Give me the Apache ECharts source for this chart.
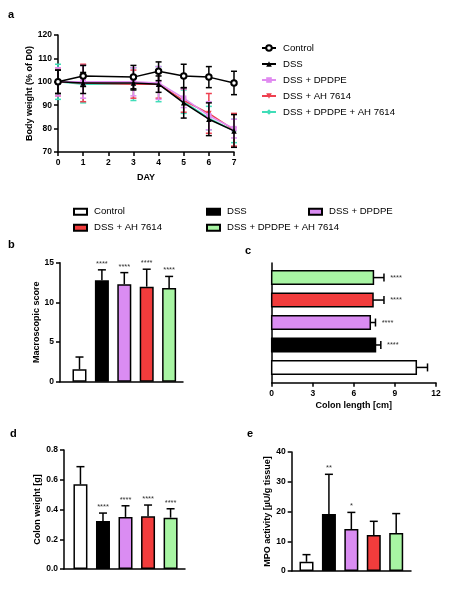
<!DOCTYPE html>
<html><head><meta charset="utf-8">
<script src="https://cdn.jsdelivr.net/npm/echarts@6/dist/echarts.min.js"></script>
<style>html,body{margin:0;padding:0;background:#fff}#c{width:474px;height:591px}</style>
</head><body><div id="c"></div><script>
// ---------- data ----------
const groups = ['Control','DSS','DSS + DPDPE','DSS + AH 7614','DSS + DPDPE + AH 7614'];
const days = [0,1,3,4,5,6,7];
// panel a: body weight (% of D0)
const bwControl   = [100,102.5,102,104.5,102.5,102,99.5];
const bwControlSd = [5,4.5,5,4,5,4.5,5];
const bwDss       = [100,99.5,99.5,99,91,84,79];
const bwDssSd     = [5,4.5,3,3.5,6.5,7,7];
const bwDpdpe     = [100,100,100,99.5,93,85.5,80];
const bwDpdpeSd   = [6,7,6,7,4,6,4];
const bwAh        = [100,99.5,99,99,92,86.5,79.5];
const bwAhSd      = [6,8,6,6,5,8.5,7];
const bwCombo     = [100,99,99,99,91.5,84.5,79];
const bwComboSd   = [7.5,8,7,7.5,5,5,5];
// panel b: macroscopic score
const macroMean  = [1.56,12.8,12.28,11.98,11.8];
const macroSd    = [1.55,1.3,1.47,2.2,1.47];
const macroStars = ['','****','****','****','****'];
// panel c: colon length [cm]
const lengthMean  = [10.56,7.58,7.2,7.4,7.43];
const lengthSd    = [0.82,0.39,0.38,0.8,0.77];
const lengthStars = ['','****','****','****','****'];
// panel d: colon weight [g]
const weightMean  = [0.569,0.323,0.35,0.354,0.345];
const weightSd    = [0.119,0.053,0.075,0.076,0.06];
const weightStars = ['','****','****','****','****'];
// panel e: MPO activity
const mpoMean  = [3.1,19.2,14.1,12.1,12.8];
const mpoSd    = [2.4,13.3,5.6,4.6,6.5];
const mpoStars = ['','**','*','',''];

// ---------- styles ----------
const FONT = "'Liberation Sans', Arial, sans-serif";
const lineColors = ['#000000','#000000','#E08BF0','#EE4050','#40DDB8'];
const barColors  = ['#FFFFFF','#000000','#DA8CF2','#F23C3C','#A8F5A3'];
const lineSymbols = ['emptyCircle','triangle','rect','triangle','diamond'];
const lineSymbolRot = [0,0,0,180,0];

const axisLine = {onZero:false, lineStyle:{color:'#000', width:1.5}};
const axisTick = {length:4, lineStyle:{color:'#000', width:1.5}};
const axisLabel = {color:'#000', fontWeight:'bold', fontSize:8.5, fontFamily:FONT, margin:6};
const nameStyle = {color:'#000', fontWeight:'bold', fontSize:9, fontFamily:FONT};

function vErr(ax, means, sds, stars) {
  return {
    type:'custom', xAxisIndex:ax, yAxisIndex:ax, z:5, silent:true,
    data: means.map((m,i)=>[i,m,sds[i]]),
    renderItem:(params, api)=>{
      const i=api.value(0), m=api.value(1), s=api.value(2);
      const a=api.coord([i,m]), b=api.coord([i,m+s]);
      const ch=[
        {type:'line', shape:{x1:a[0],y1:a[1],x2:b[0],y2:b[1]}, style:{stroke:'#000', lineWidth:1.5}},
        {type:'line', shape:{x1:b[0]-4,y1:b[1],x2:b[0]+4,y2:b[1]}, style:{stroke:'#000', lineWidth:1.5}}
      ];
      const st=stars[params.dataIndex];
      if(st) ch.push({type:'text', style:{text:st, x:b[0], y:b[1]-6, align:'center', verticalAlign:'middle', fontSize:7.5, fontFamily:FONT, fill:'#333'}});
      return {type:'group', children:ch};
    }
  };
}
function vBars(ax, means) {
  return {
    type:'bar', xAxisIndex:ax, yAxisIndex:ax, barWidth:14, silent:true,
    data: means.map((m,i)=>({value:[i,m], itemStyle:{color:barColors[i]}})),
    itemStyle:{borderColor:'#000', borderWidth:1.5}
  };
}
function lineErr(means, sds, color, z) {
  return {
    type:'custom', xAxisIndex:0, yAxisIndex:0, z:z, silent:true,
    data: days.map((d,i)=>[d, means[i], sds[i]]),
    renderItem:(params, api)=>{
      const d=api.value(0), m=api.value(1), s=api.value(2);
      const lo=api.coord([d,m-s]), hi=api.coord([d,m+s]);
      const st={stroke:color, lineWidth:1.5};
      return {type:'group', children:[
        {type:'line', shape:{x1:lo[0],y1:lo[1],x2:hi[0],y2:hi[1]}, style:st},
        {type:'line', shape:{x1:lo[0]-3,y1:lo[1],x2:lo[0]+3,y2:lo[1]}, style:st},
        {type:'line', shape:{x1:hi[0]-3,y1:hi[1],x2:hi[0]+3,y2:hi[1]}, style:st}
      ]};
    }
  };
}
function lineSeries(idx, vals, z) {
  return {
    type:'line', name:groups[idx], xAxisIndex:0, yAxisIndex:0, z:z,
    data: days.map((d,i)=>[d, vals[i]]),
    symbol: lineSymbols[idx], symbolSize: idx===0?5.5:5.5, symbolRotate: lineSymbolRot[idx],
    lineStyle:{color:lineColors[idx], width:1.5},
    itemStyle:{color:lineColors[idx], borderColor:lineColors[idx], borderWidth: idx===0?1.3:0}
  };
}

const bwVals = [bwControl,bwDss,bwDpdpe,bwAh,bwCombo];
const bwSds  = [bwControlSd,bwDssSd,bwDpdpeSd,bwAhSd,bwComboSd];

const series = [];
[4,3,2,1,0].forEach((g,k)=>{
  series.push(lineErr(bwVals[g], bwSds[g], lineColors[g], 2+k*2));
  series.push(lineSeries(g, bwVals[g], 3+k*2));
});
// panel b
series.push(vBars(1, macroMean));
series.push(vErr(1, macroMean, macroSd, macroStars));
// panel c (horizontal bars)
series.push({
  type:'custom', xAxisIndex:2, yAxisIndex:2, z:5, silent:true,
  data: lengthMean.map((m,i)=>[m,i,lengthSd[i]]),
  renderItem:(params, api)=>{
    const v=api.value(0), i=api.value(1), s=api.value(2);
    const p0=api.coord([0,i]), p1=api.coord([v,i]), p2=api.coord([v+s,i]);
    const h=api.size([0,1])[1]*0.6;
    const ch=[
      {type:'line', shape:{x1:p1[0],y1:p1[1],x2:p2[0],y2:p2[1]}, style:{stroke:'#000', lineWidth:1.5}},
      {type:'line', shape:{x1:p2[0],y1:p2[1]-4,x2:p2[0],y2:p2[1]+4}, style:{stroke:'#000', lineWidth:1.5}},
      {type:'rect', shape:{x:p0[0], y:p0[1]-h/2, width:p1[0]-p0[0], height:h}, style:{fill:barColors[params.dataIndex], stroke:'#000', lineWidth:1.5}}
    ];
    const st=lengthStars[params.dataIndex];
    if(st) ch.push({type:'text', style:{text:st, x:p2[0]+12, y:p2[1], align:'center', verticalAlign:'middle', fontSize:7.5, fontFamily:FONT, fill:'#333'}});
    return {type:'group', children:ch};
  }
});
// panel d
series.push(vBars(3, weightMean));
series.push(vErr(3, weightMean, weightSd, weightStars));
// panel e
series.push(vBars(4, mpoMean));
series.push(vErr(4, mpoMean, mpoSd, mpoStars));
// legend-only bar series on a hidden grid
groups.forEach((g,i)=>{
  series.push({type:'bar', name:'bar:'+g, xAxisIndex:5, yAxisIndex:5, data:[],
    itemStyle:{color:barColors[i], borderColor:'#000', borderWidth:1}});
});

const hiddenAxis = {type:'value', show:false, gridIndex:5};
const legText = {fontSize:9.6, color:'#000', fontFamily:FONT, padding:[0,0,0,2]};
const barFmt = n=>n.replace('bar:','');

const option = {
  animation:false,
  backgroundColor:'#fff',
  textStyle:{fontFamily:FONT},
  grid:[
    {left:58, top:35, width:176, height:117},
    {left:60, top:262.7, width:123, height:119},
    {left:271.7, top:263, width:164.3, height:119.7},
    {left:64, top:450, width:121, height:119},
    {left:291.7, top:452, width:119.3, height:119},
    {left:-100, top:-100, width:10, height:10, show:false}
  ],
  xAxis:[
    {type:'value', gridIndex:0, min:0, max:7, interval:1, axisLine, axisTick, axisLabel, splitLine:{show:false},
      name:'DAY', nameLocation:'middle', nameGap:21, nameTextStyle:nameStyle},
    {type:'value', gridIndex:1, min:-0.87, max:4.62, axisLine, axisTick:{show:false}, axisLabel:{show:false}, splitLine:{show:false}},
    {type:'value', gridIndex:2, min:0, max:12, interval:3, axisLine, axisTick, axisLabel, splitLine:{show:false},
      name:'Colon length [cm]', nameLocation:'middle', nameGap:18, nameTextStyle:nameStyle},
    {type:'value', gridIndex:3, min:-0.73, max:4.64, axisLine, axisTick:{show:false}, axisLabel:{show:false}, splitLine:{show:false}},
    {type:'value', gridIndex:4, min:-0.66, max:4.66, axisLine, axisTick:{show:false}, axisLabel:{show:false}, splitLine:{show:false}},
    hiddenAxis
  ],
  yAxis:[
    {type:'value', gridIndex:0, min:70, max:120, interval:10, axisLine, axisTick, axisLabel, splitLine:{show:false},
      name:'Body weight (% of D0)', nameLocation:'middle', nameGap:21, nameTextStyle:nameStyle},
    {type:'value', gridIndex:1, min:0, max:15, interval:5, axisLine, axisTick, axisLabel, splitLine:{show:false},
      name:'Macroscopic score', nameLocation:'middle', nameGap:16, nameTextStyle:nameStyle},
    {type:'value', gridIndex:2, min:-0.68, max:4.65, axisLine, axisTick:{show:false}, axisLabel:{show:false}, splitLine:{show:false}},
    {type:'value', gridIndex:3, min:0, max:0.8, interval:0.2, axisLine, axisTick, splitLine:{show:false},
      axisLabel:Object.assign({}, axisLabel, {formatter:v=>v.toFixed(1)}),
      name:'Colon weight [g]', nameLocation:'middle', nameGap:20, nameTextStyle:nameStyle},
    {type:'value', gridIndex:4, min:0, max:40, interval:10, axisLine, axisTick, axisLabel, splitLine:{show:false},
      name:'MPO activity [µU/g tissue]', nameLocation:'middle', nameGap:20, nameTextStyle:nameStyle},
    hiddenAxis
  ],
  legend:[
    {data:groups, left:256, top:38, orient:'vertical', itemWidth:14, itemHeight:7, itemGap:6, textStyle:legText, selectedMode:false},
    {data:['bar:Control','bar:DSS + AH 7614'], left:68, top:201.7, orient:'vertical', icon:'rect', itemWidth:13, itemHeight:6, itemGap:6, formatter:barFmt, textStyle:legText, selectedMode:false},
    {data:['bar:DSS','bar:DSS + DPDPE + AH 7614'], left:201, top:201.7, orient:'vertical', icon:'rect', itemWidth:13, itemHeight:6, itemGap:6, formatter:barFmt, textStyle:legText, selectedMode:false},
    {data:['bar:DSS + DPDPE'], left:303, top:201.7, orient:'vertical', icon:'rect', itemWidth:13, itemHeight:6, itemGap:6, formatter:barFmt, textStyle:legText, selectedMode:false}
  ],
  graphic:[
    {type:'text', left:8, top:9, style:{text:'a', fontSize:11, fontWeight:'bold', fontFamily:FONT, fill:'#000'}},
    {type:'text', left:8, top:239, style:{text:'b', fontSize:11, fontWeight:'bold', fontFamily:FONT, fill:'#000'}},
    {type:'text', left:245, top:245, style:{text:'c', fontSize:11, fontWeight:'bold', fontFamily:FONT, fill:'#000'}},
    {type:'text', left:10, top:428, style:{text:'d', fontSize:11, fontWeight:'bold', fontFamily:FONT, fill:'#000'}},
    {type:'text', left:247, top:428, style:{text:'e', fontSize:11, fontWeight:'bold', fontFamily:FONT, fill:'#000'}}
  ],
  series
};
echarts.init(document.getElementById('c'), null, {renderer:'canvas'}).setOption(option);
</script></body></html>
